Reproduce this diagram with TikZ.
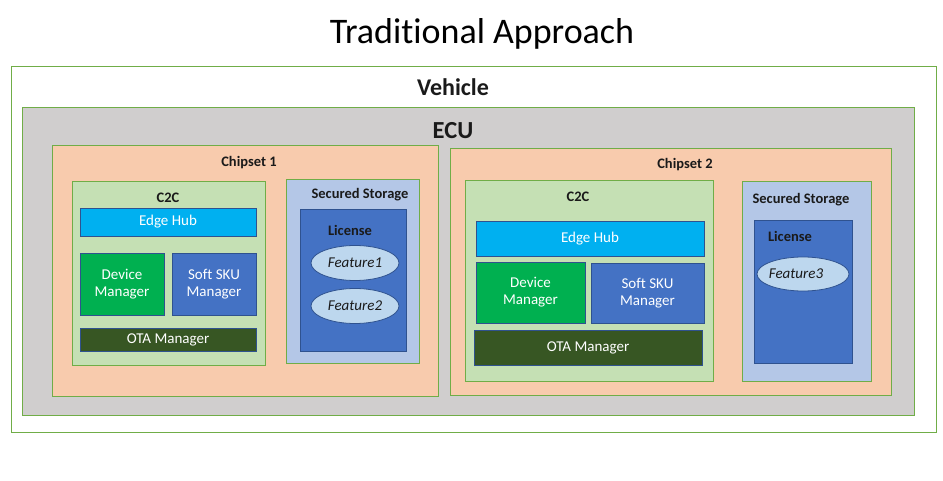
\documentclass[tikz,border=0pt]{standalone}
\usepackage{fontspec}
\setmainfont[Ligatures={NoCommon}]{Carlito}
\usetikzlibrary{shapes.geometric}
\definecolor{grn}{HTML}{70AD47}
\definecolor{ecug}{HTML}{D0CECE}
\definecolor{chip}{HTML}{F8CBAD}
\definecolor{ctc}{HTML}{C5E0B4}
\definecolor{edge}{HTML}{00B0F0}
\definecolor{devm}{HTML}{00B050}
\definecolor{sku}{HTML}{4472C4}
\definecolor{ota}{HTML}{375623}
\definecolor{sec}{HTML}{B4C7E7}
\definecolor{feat}{HTML}{BDD7EE}
\definecolor{dblue}{HTML}{2F528F}
\definecolor{ttl}{HTML}{1A1A1A}
\tikzset{
  box/.style={draw, rectangle, inner sep=0pt, outer sep=0pt, line width=0.8pt},
  gbox/.style={box, draw=grn},
  bbox/.style={box, draw=dblue, text=white, font=\fontsize{15}{17}\selectfont, align=center},
  lbl/.style={font=\bfseries\fontsize{14.5}{17}\selectfont, text=ttl, inner sep=0pt, yshift=-1.5pt},
  feature/.style={ellipse, draw=dblue, fill=feat, line width=0.8pt, inner sep=0pt, font=\itshape\fontsize{15}{17}\selectfont, text=ttl}
}
\newcommand{\mybox}[7]{%
  \pgfmathsetmacro{\cx}{(#2+#4)/2}\pgfmathsetmacro{\cy}{(#3+#5)/2}%
  \pgfmathsetmacro{\w}{#4-#2}\pgfmathsetmacro{\h}{#5-#3}%
  \node[#6, minimum width=\w pt, minimum height=\h pt] (#1) at (\cx,\cy) {#7};}
\begin{document}
\begin{tikzpicture}[x=1pt,y=-1pt]
\useasboundingbox[fill=white] (0,0) rectangle (943,481);
\node[font=\fontsize{36}{42}\selectfont, text=black] (title) at (482,34) {Traditional Approach};
% Vehicle
\mybox{veh}{11}{66}{936}{432}{gbox, fill=white}{}
\node[lbl, font=\bfseries\fontsize{24}{28}\selectfont] (vehl) at (453,86) {Vehicle};
% ECU
\mybox{ecu}{22}{107}{914}{415}{gbox, fill=ecug}{}
\node[lbl, font=\bfseries\fontsize{24.5}{28}\selectfont] (ecul) at (453,129) {ECU};
% Chipset 1
\mybox{ch1}{52}{145}{438}{396}{gbox, fill=chip}{}
\node[lbl] (ch1l) at (249,161) {Chipset 1};
\mybox{c2c1}{72}{181}{265}{365}{gbox, fill=ctc}{}
\node[lbl] (c2c1l) at (168,196) {C2C};
\mybox{eh1}{80}{208}{256}{236}{bbox, fill=edge}{\raisebox{-1.5pt}{Edge Hub}}
\mybox{dm1}{80}{253}{164}{315}{bbox, fill=devm}{Device\\Manager}
\mybox{sk1}{172}{253}{256}{315}{bbox, fill=sku}{Soft SKU\\Manager}
\mybox{ota1}{80}{328}{256}{351}{bbox, fill=ota}{\raisebox{-1.5pt}{OTA Manager}}
\mybox{ss1}{286}{179}{419}{363}{gbox, fill=sec}{}
\node[lbl] (ss1l) at (360,193) {Secured Storage};
\mybox{li1}{300}{209}{406}{351}{box, draw=dblue, fill=sku}{}
\node[lbl] (li1l) at (350,229) {License};
\node[feature, minimum width=88pt, minimum height=35pt] (f1) at (355,263) {Feature1};
\node[feature, minimum width=88pt, minimum height=35pt] (f2) at (355,306) {Feature2};
% Chipset 2
\mybox{ch2}{450}{148}{891}{395}{gbox, fill=chip}{}
\node[lbl] (ch2l) at (685,163) {Chipset 2};
\mybox{c2c2}{465}{180}{713}{381}{gbox, fill=ctc}{}
\node[lbl] (c2c2l) at (578,195) {C2C};
\mybox{eh2}{476}{221}{704}{256}{bbox, fill=edge}{\raisebox{-1.5pt}{Edge Hub}}
\mybox{dm2}{476}{262}{585}{323}{bbox, fill=devm}{Device\\Manager}
\mybox{sk2}{591}{263}{704}{323}{bbox, fill=sku}{Soft SKU\\Manager}
\mybox{ota2}{474}{330}{702}{365}{bbox, fill=ota}{\raisebox{-1.5pt}{OTA Manager}}
\mybox{ss2}{742}{181}{871}{381}{gbox, fill=sec}{}
\node[lbl] (ss2l) at (801,198) {Secured Storage};
\mybox{li2}{754}{220}{852}{363}{box, draw=dblue, fill=sku}{}
\node[lbl] (li2l) at (790,235) {License};
\node[feature, minimum width=92pt, minimum height=34pt] (f3) at (803,274) {\hspace*{-14pt}Feature3};
\end{tikzpicture}
\end{document}
